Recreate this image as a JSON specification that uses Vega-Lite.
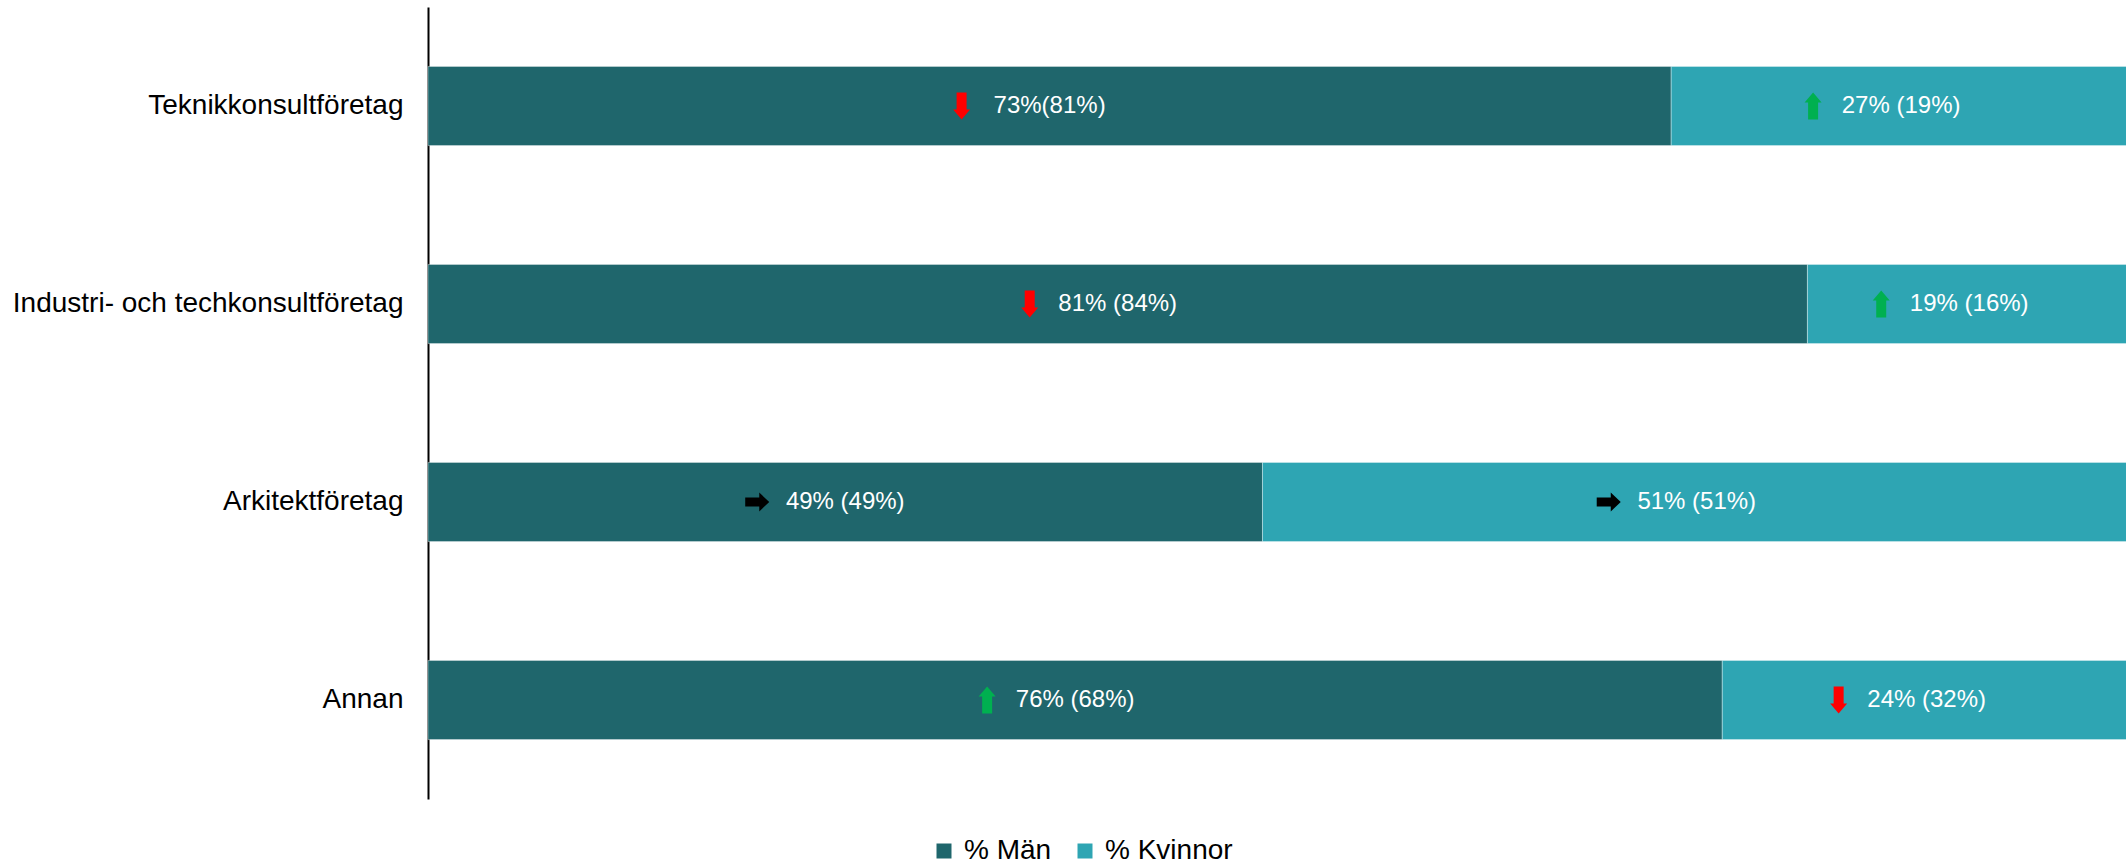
{
  "$schema": "https://vega.github.io/schema/vega-lite/v6.json",
  "autosize": {"type": "none"},
  "padding": {"left": 428, "top": 7, "right": 0, "bottom": 66},
  "width": 1703,
  "height": 792,
  "background": "white",
  "config": {
    "view": {"stroke": null},
    "font": "Liberation Sans"
  },
  "data": {
    "values": [
      {"cat": "Teknikkonsultföretag", "gender": "% Män", "value": 73, "label": "73%(81%)", "trend": "down"},
      {"cat": "Teknikkonsultföretag", "gender": "% Kvinnor", "value": 27, "label": "27% (19%)", "trend": "up"},
      {"cat": "Industri- och techkonsultföretag", "gender": "% Män", "value": 81, "label": "81% (84%)", "trend": "down"},
      {"cat": "Industri- och techkonsultföretag", "gender": "% Kvinnor", "value": 19, "label": "19% (16%)", "trend": "up"},
      {"cat": "Arkitektföretag", "gender": "% Män", "value": 49, "label": "49% (49%)", "trend": "flat"},
      {"cat": "Arkitektföretag", "gender": "% Kvinnor", "value": 51, "label": "51% (51%)", "trend": "flat"},
      {"cat": "Annan", "gender": "% Män", "value": 76, "label": "76% (68%)", "trend": "up"},
      {"cat": "Annan", "gender": "% Kvinnor", "value": 24, "label": "24% (32%)", "trend": "down"}
    ]
  },
  "transform": [
    {"stack": "value", "groupby": ["cat"], "sort": [{"field": "gender", "order": "descending"}], "as": ["x0", "x1"]}
  ],
  "encoding": {
    "y": {
      "field": "cat", "type": "nominal",
      "sort": ["Teknikkonsultföretag", "Industri- och techkonsultföretag", "Arkitektföretag", "Annan"],
      "scale": {"paddingInner": 0.6, "paddingOuter": 0.3},
      "axis": {
        "title": null, "ticks": false, "labelFontSize": 28, "labelColor": "#000000",
        "labelPadding": 25, "domainColor": "#000000", "domainWidth": 2, "labelLimit": 500
      }
    }
  },
  "layer": [
    {
      "mark": {"type": "bar", "stroke": "#ffffff", "strokeWidth": 0.6, "strokeOpacity": 0.6},
      "encoding": {
        "x": {
          "field": "x0", "type": "quantitative",
          "scale": {"domain": [0, 100], "nice": false, "zero": true},
          "axis": null
        },
        "x2": {"field": "x1"},
        "color": {
          "field": "gender", "type": "nominal",
          "scale": {"domain": ["% Män", "% Kvinnor"], "range": ["#1f666c", "#2ea5b3"]},
          "legend": {
            "title": null, "orient": "none", "direction": "horizontal",
            "legendX": 502, "legendY": 830,
            "symbolType": "square", "symbolSize": 225, "symbolStrokeWidth": 0,
            "labelFontSize": 28, "labelColor": "#000000", "labelOffset": 6,
            "columnPadding": 19
          }
        }
      }
    },
    {
      "transform": [{"fold": ["x0", "x1"], "as": ["edge", "pos"]}],
      "mark": {"type": "text", "fontSize": 24, "color": "#ffffff", "align": "center", "baseline": "middle"},
      "encoding": {
        "x": {"field": "pos", "aggregate": "mean", "type": "quantitative", "axis": null},
        "text": {"field": "label"},
        "detail": {"field": "gender"}
      }
    },
    {
      "transform": [{"fold": ["x0", "x1"], "as": ["edge", "pos"]}],
      "mark": {"type": "point", "filled": true, "size": 729, "opacity": 1, "xOffset": -88, "strokeWidth": 0},
      "encoding": {
        "x": {"field": "pos", "aggregate": "mean", "type": "quantitative", "axis": null},
        "detail": {"field": "gender"},
        "shape": {
          "field": "trend", "type": "nominal", "legend": null,
          "scale": {
            "domain": ["down", "up", "flat"],
            "range": [
              "M-0.37,-1L0.37,-1L0.37,0.26L0.63,0.26L0,1L-0.63,0.26L-0.37,0.26Z",
              "M-0.37,1L0.37,1L0.37,-0.26L0.63,-0.26L0,-1L-0.63,-0.26L-0.37,-0.26Z",
              "M-0.89,-0.33L0.15,-0.33L0.15,-0.7L0.89,0L0.15,0.7L0.15,0.33L-0.89,0.33Z"
            ]
          }
        },
        "fill": {
          "field": "trend", "type": "nominal", "legend": null,
          "scale": {"domain": ["down", "up", "flat"], "range": ["#ff0000", "#00b050", "#000000"]}
        }
      }
    }
  ]
}
